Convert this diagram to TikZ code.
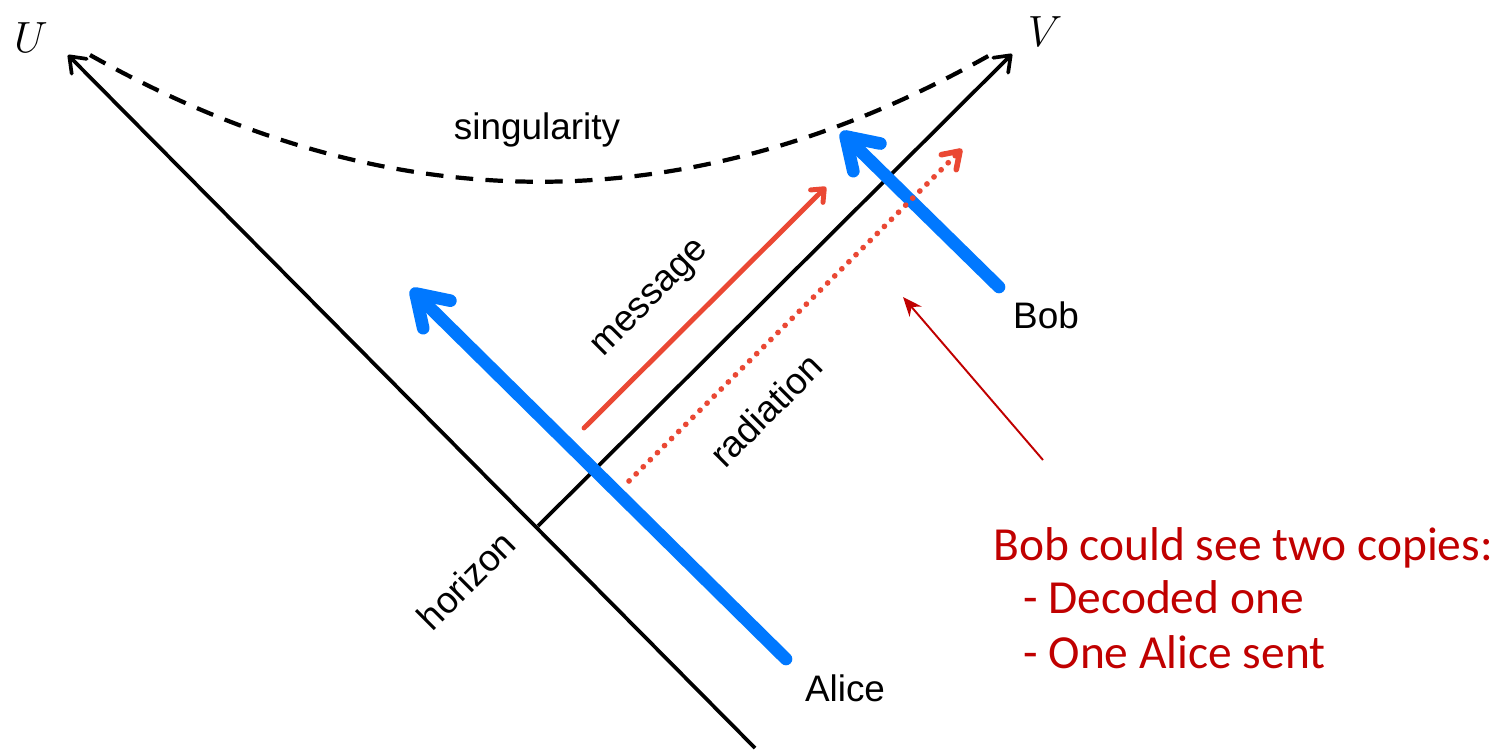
\documentclass[tikz,border=0pt]{standalone}
\usepackage{fontspec}
\setsansfont{Liberation Sans}
\newfontfamily\calib{Carlito}
\usetikzlibrary{arrows.meta}
\definecolor{abblue}{RGB}{0,120,255}
\definecolor{msgred}{RGB}{234,72,52}
\definecolor{darkred}{RGB}{192,0,0}
\tikzset{
  axis/.style={line width=2.1pt, -{Straight Barb[length=8pt,width=12pt,round]}},
  worldline/.style={abblue, line width=7.2pt, line cap=round, -{Straight Barb[length=17pt,width=22pt,round]}},
  msg/.style={msgred, line width=2.8pt, line cap=round, -{Straight Barb[length=6pt,width=10pt,round]}},
  rad/.style={msgred, line width=3.2pt, line cap=round, dash pattern=on 0.1pt off 5.6pt, -{Straight Barb[length=9pt,width=12pt,round]}},
  pointer/.style={darkred, line width=1.1pt, -{Stealth[length=11pt,width=9pt]}},
  lbl/.style={font=\sffamily\fontsize{21}{25}\selectfont},
  note/.style={darkred, font=\calib\fontsize{27}{32}\selectfont, anchor=base west, inner sep=0pt},
  sing/.style={line width=2.4pt, dash pattern=on 10pt off 7pt}
}
\begin{document}
\begin{tikzpicture}[x=0.02cm,y=-0.02cm]
\useasboundingbox (0,0) rectangle (1504,750);
% axes
\coordinate (ubot) at (755,748);
\coordinate (utop) at (68,55);
\coordinate (vbot) at (538,526);
\coordinate (vtop) at (1012,54);
\draw[axis] (ubot) -- (utop);
\draw[axis] (vbot) -- (vtop);
\node[font=\fontsize{28}{32}\selectfont] (U) at (31,38) {$U$};
\node[font=\fontsize{28}{32}\selectfont] (V) at (1045,32) {$V$};
% singularity
\coordinate (s1) at (90,55);
\coordinate (s2) at (990,55);
\coordinate (c1) at (390,224);
\coordinate (c2) at (690,224);
\draw[sing] (s1) .. controls (c1) and (c2) .. (s2);
\node[lbl] (singlbl) at (537,130) {singularity};
% world lines
\coordinate (aliceStart) at (786,659);
\coordinate (aliceEnd) at (411,289);
\draw[worldline] (aliceStart) -- (aliceEnd);
\coordinate (bobStart) at (999,287);
\coordinate (bobEnd) at (841,132);
\draw[worldline] (bobStart) -- (bobEnd);
% message and radiation
\coordinate (m1) at (584,428);
\coordinate (m2) at (826,187);
\draw[msg] (m1) -- (m2);
\coordinate (r1) at (629,481);
\coordinate (r2) at (962,149);
\draw[rad] (r1) -- (r2);
\node[lbl, rotate=45] (msglbl) at (652,300) {message};
\node[lbl, rotate=45] (radlbl) at (766,410) {radiation};
\node[lbl, rotate=45] (horlbl) at (466,580) {horizon};
\node[lbl] (alice) at (845,688) {Alice};
\node[lbl] (bob) at (1046,315) {Bob};
% pointer
\coordinate (p1) at (1043,460);
\coordinate (p2) at (903,297);
\draw[pointer] (p1) -- (p2);
\node[note] (n1) at (993,560) {Bob could see two copies:};
\node[note] (n2) at (1023,613) {- Decoded one};
\node[note] (n3) at (1023,668) {- One Alice sent};
\end{tikzpicture}
\end{document}
